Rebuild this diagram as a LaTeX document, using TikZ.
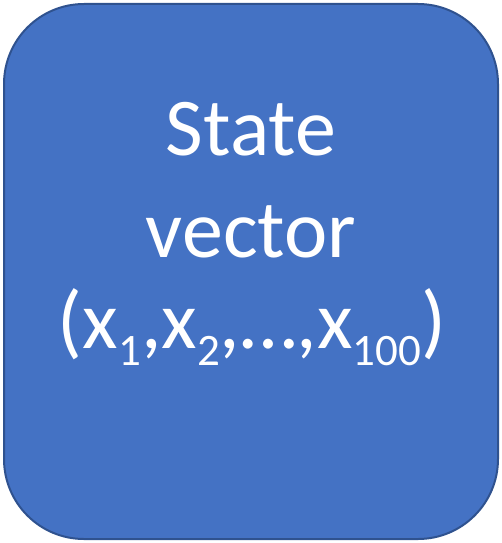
\documentclass[tikz,border=0pt]{standalone}
\usepackage{fontspec}
\setmainfont{Carlito}
\definecolor{boxfill}{HTML}{4472C4}
\definecolor{boxline}{HTML}{2F528F}
\newcommand{\subdig}[1]{\raisebox{-17pt}{\fontsize{45}{45}\selectfont #1}}
\begin{document}
\begin{tikzpicture}[x=1pt,y=-1pt,
  txt/.style={text=white,inner sep=0pt,anchor=base,font=\fontsize{82}{98}\selectfont}]
\useasboundingbox (0,0) rectangle (502,543);
\draw[fill=boxfill,draw=boxline,line width=2pt,rounded corners=80pt] (4,4) rectangle (498,539);
\node[txt] (l1) at (251,155) {State};
\node[txt] (l2) at (251,257) {vector};
\node[txt] (l3) at (252,348) {(x\subdig{1},x\subdig{2},…,x\subdig{100})};
\end{tikzpicture}
\end{document}
